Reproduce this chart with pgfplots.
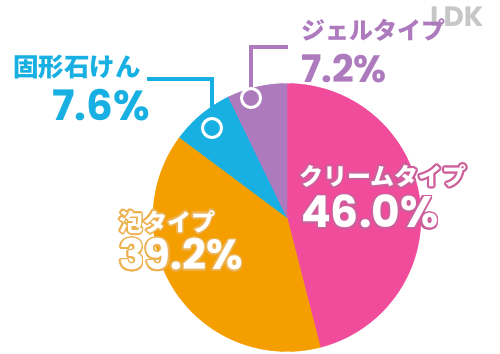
\documentclass[border=0pt]{standalone}
\usepackage{pgfplots}
\usepackage{pgfplotstable}
\pgfplotsset{compat=1.18}
\usepackage{fontspec}
\newfontfamily\jp{Noto Sans CJK JP}
\newfontfamily\num{Poppins}
\definecolor{cpink}{RGB}{240,76,155}
\definecolor{corange}{RGB}{245,158,0}
\definecolor{cblue}{RGB}{24,176,226}
\definecolor{cpurple}{RGB}{174,122,190}
\definecolor{opink}{RGB}{205,95,155}
\definecolor{oorange}{RGB}{236,178,82}
\pgfplotstableread{
slice pct
Cream 46.0
Foam 39.2
Soap 7.6
Gel 7.2
}\piedata
\pgfplotstablegetelem{0}{pct}\of\piedata \let\pA\pgfplotsretval%
\pgfplotstablegetelem{1}{pct}\of\piedata \let\pB\pgfplotsretval%
\pgfplotstablegetelem{2}{pct}\of\piedata \let\pC\pgfplotsretval%
\pgfplotstablegetelem{3}{pct}\of\piedata \let\pD\pgfplotsretval%
\pgfmathsetmacro\eA{3.6*\pA}%
\pgfmathsetmacro\eB{\eA+3.6*\pB}%
\pgfmathsetmacro\eC{\eB+3.6*\pC}%
\pgfmathsetmacro\eD{\eC+3.6*\pD}%
\def\cx{287}\def\cy{217.5}\def\pr{134}%
\newcommand\outl[5]{%
  \foreach \a in {0,22.5,...,337.5}{\node[anchor=#2, inner sep=0pt, text=#3, font=#4] at ([shift={(\a:1.7pt)}]#1) {#5};}%
  \node[anchor=#2, inner sep=0pt, text=white, font=#4] at (#1) {#5};}
\begin{document}%
\begin{tikzpicture}
\useasboundingbox (0,0) rectangle (500pt,353pt);
\begin{axis}[
  at={(0,0)}, anchor=south west,
  width=500pt, height=353pt, scale only axis,
  xmin=0, xmax=500, ymin=0, ymax=353, y dir=reverse,
  hide axis, clip=false]
\addplot[fill=cpink, draw=cpink, line width=0.4pt, domain=0:\eA, samples=100, variable=\t]
  ({\cx+\pr*sin(\t)},{\cy-\pr*cos(\t)}) -- (axis cs:\cx,\cy) -- cycle;
\addplot[fill=corange, draw=corange, line width=0.4pt, domain=\eA:\eB, samples=100, variable=\t]
  ({\cx+\pr*sin(\t)},{\cy-\pr*cos(\t)}) -- (axis cs:\cx,\cy) -- cycle;
\addplot[fill=cblue, draw=cblue, line width=0.4pt, domain=\eB:\eC, samples=30, variable=\t]
  ({\cx+\pr*sin(\t)},{\cy-\pr*cos(\t)}) -- (axis cs:\cx,\cy) -- cycle;
\addplot[fill=cpurple, draw=cpurple, line width=0.4pt, domain=\eC:\eD, samples=30, variable=\t]
  ({\cx+\pr*sin(\t)},{\cy-\pr*cos(\t)}) -- (axis cs:\cx,\cy) -- cycle;
% callouts
\addplot[cblue, line width=3.2pt, mark=none] coordinates {(147,79) (212,79) (212,124)};
\addplot[only marks, mark=*, mark size=9.5pt, mark options={fill=cblue, draw=white, line width=3pt}] coordinates {(212,128)};
\addplot[cpurple, line width=3.2pt, mark=none] coordinates {(288,47) (251,47) (251,94)};
\addplot[only marks, mark=*, mark size=9.5pt, mark options={fill=cpurple, draw=white, line width=3pt}] coordinates {(251,98)};
% watermark
\node[anchor=west, inner sep=0pt, text=black!22, font=\num\bfseries\fontsize{28}{30}\selectfont] at (axis cs:430,17) {LDK};
% plain labels
\node[anchor=west, inner sep=0pt, text=cblue, font=\jp\bfseries\fontsize{25.5}{28}\selectfont] at (axis cs:13,67) {固形石けん};
\node[anchor=base west, inner sep=0pt, text=cblue, font=\num\bfseries\fontsize{42}{44}\selectfont] at (axis cs:52,120) {7.6\%};
\node[anchor=west, inner sep=0pt, text=cpurple, font=\jp\bfseries\fontsize{24}{28}\selectfont] at (axis cs:301,30) {ジェルタイプ};
\node[anchor=base west, inner sep=0pt, text=cpurple, font=\num\bfseries\fontsize{38}{40}\selectfont] at (axis cs:301,82) {7.2\%};
\coordinate (lC) at (axis cs:299,176);
\coordinate (nC) at (axis cs:301,228);
\coordinate (lF) at (axis cs:119,222);
\coordinate (nF) at (axis cs:119,270);
\end{axis}
\outl{lC}{west}{opink}{\jp\bfseries\fontsize{24}{28}\selectfont}{クリームタイプ}
\outl{nC}{base west}{opink}{\num\bfseries\fontsize{44}{46}\selectfont}{46.0\%}
\outl{lF}{west}{oorange}{\jp\bfseries\fontsize{24}{28}\selectfont}{泡タイプ}
\outl{nF}{base west}{oorange}{\num\bfseries\fontsize{42}{44}\selectfont}{39.2\%}
\end{tikzpicture}%
\end{document}
